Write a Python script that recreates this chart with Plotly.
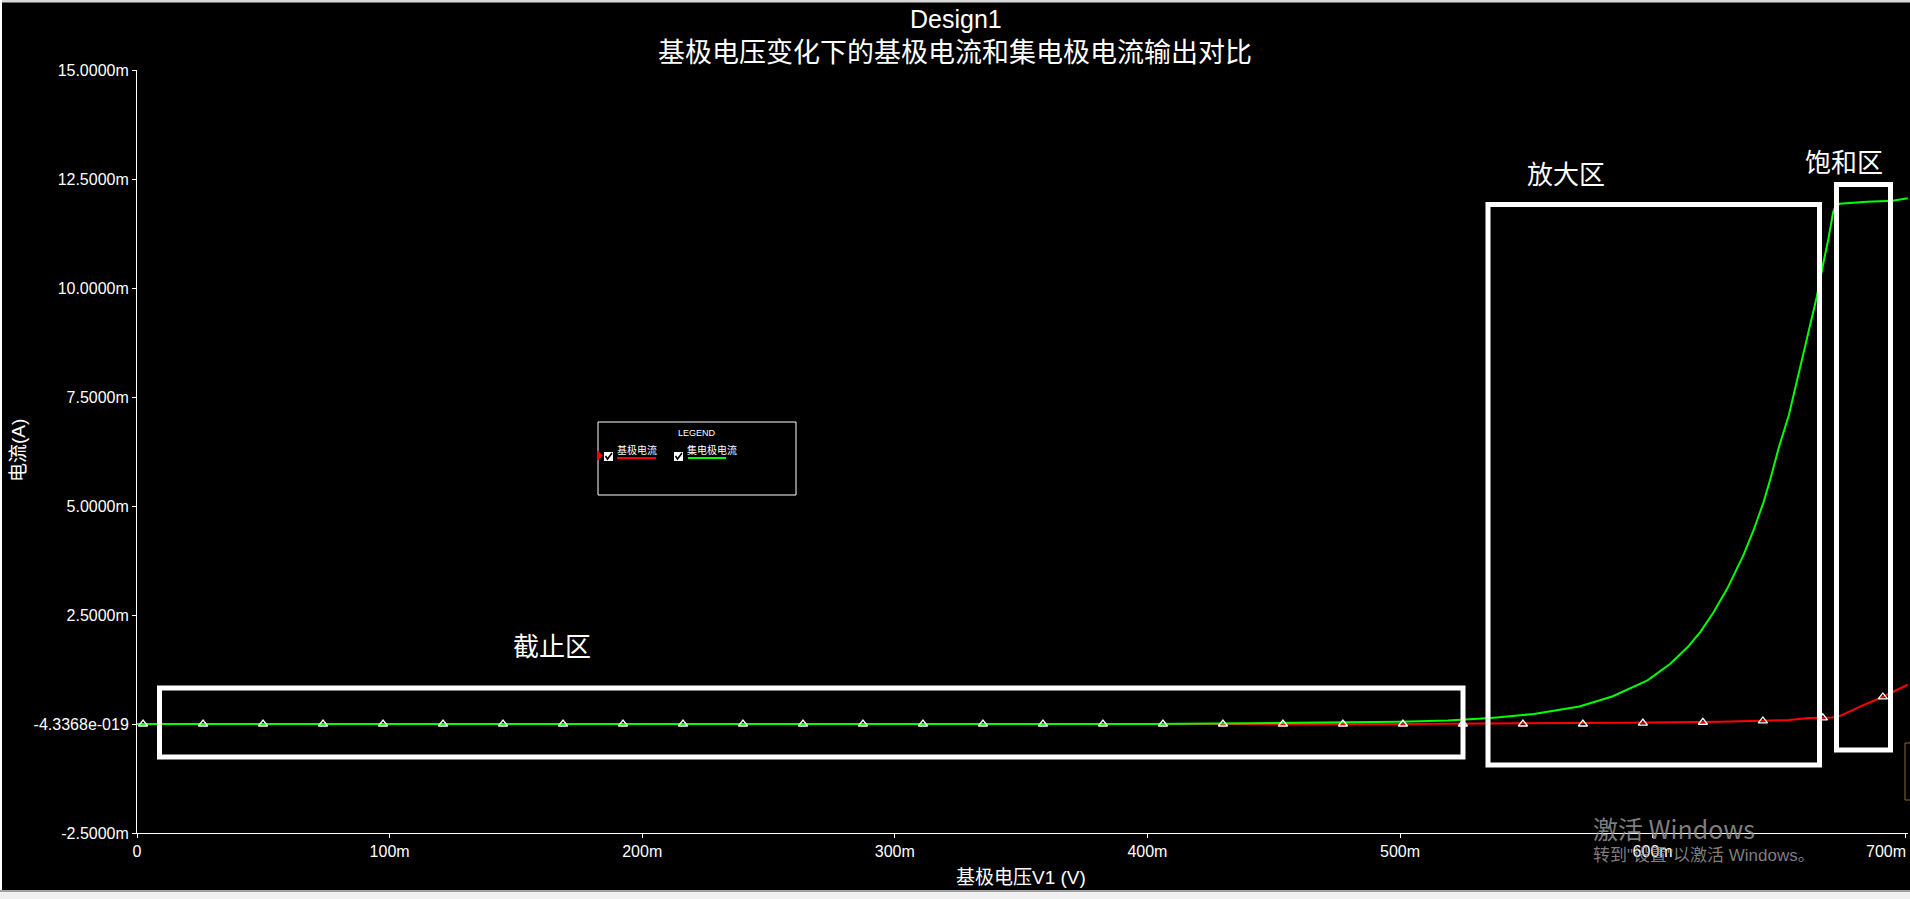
import plotly.graph_objects as go

# ---------------- data ----------------
# collector current (green), voltage in V, current in mA
vc_V = [0, 0.05, 0.1, 0.15, 0.2, 0.25, 0.3, 0.35, 0.4, 0.44, 0.465, 0.5, 0.519, 0.536, 0.553,
        0.571, 0.584, 0.598, 0.607, 0.614, 0.619, 0.624, 0.6295, 0.636, 0.640, 0.644, 0.647,
        0.650, 0.654, 0.658, 0.662, 0.665, 0.6675, 0.6695, 0.6715, 0.6725, 0.674, 0.685, 0.695, 0.701]
ic_mA = [0, 0, 0, 0, 0, 0, 0, 0, 0, 0.02, 0.03, 0.05, 0.08, 0.14, 0.23,
         0.40, 0.63, 1.0, 1.38, 1.77, 2.12, 2.55, 3.1, 3.88, 4.45, 5.1, 5.7,
         6.35, 7.1, 8.1, 9.1, 9.8, 10.55, 11.1, 11.75, 11.88, 11.93, 11.98, 12.0, 12.06]

# base current (red)
vb_V = [0, 0.1, 0.2, 0.3, 0.4, 0.5, 0.59, 0.627, 0.654, 0.662, 0.671, 0.674, 0.683, 0.691, 0.701]
ib_mA = [0, 0, 0, 0, 0, 0, 0.03, 0.05, 0.09, 0.14, 0.15, 0.18, 0.42, 0.62, 0.9]

# cursor markers on the base-current trace
marker_V = [0.0024, 0.02615, 0.0499, 0.07365, 0.0974, 0.12115, 0.1449, 0.16865, 0.1924, 0.21615,
            0.2399, 0.26365, 0.2874, 0.31115, 0.3349, 0.35865, 0.3824, 0.40615, 0.4299, 0.45365,
            0.4774, 0.50115, 0.5249, 0.54865, 0.5724, 0.59615, 0.6199, 0.64365, 0.6674, 0.69115]
marker_mA = [0, 0, 0, 0, 0, 0, 0, 0, 0, 0,
             0, 0, 0, 0, 0, 0, 0, 0, 0, 0,
             0, 0, 0, 0, 0, 0.02, 0.04, 0.07, 0.14, 0.62]

x_tick_vals = [0, 0.1, 0.2, 0.3, 0.4, 0.5, 0.6, 0.7]
x_tick_text = ["0", "100m", "200m", "300m", "400m", "500m", "600m", ""]
last_x_label = "700m"
y_tick_vals = [15, 12.5, 10, 7.5, 5, 2.5, 0, -2.5]
y_tick_text = ["15.0000m", "12.5000m", "10.0000m", "7.5000m", "5.0000m", "2.5000m",
               "-4.3368e-019", "-2.5000m"]
series_names = ["基极电流", "集电极电流"]
series_colors = ["#ff0000", "#00ff00"]
region_labels = ["截止区", "放大区", "饱和区"]

title_text = "Design1"
subtitle_text = "基极电压变化下的基极电流和集电极电流输出对比"
x_title = "基极电压V1 (V)"
y_title = "电流(A)"

# ---------------- layout geometry ----------------
W, H = 1910, 899
L, R, T, B = 137, 2, 70, 66
PW, PH = W - L - R, H - T - B


def px(x):
    return (x - L) / PW


def py(y):
    return (H - B - y) / PH


LAT = "Liberation Sans, Arial, Noto Sans CJK SC"
CJK = "Noto Sans CJK SC, Liberation Sans"

fig = go.Figure()
fig.add_trace(go.Scatter(x=vb_V, y=ib_mA, mode="lines", name=series_names[0],
                         line=dict(color=series_colors[0], width=2), hoverinfo="skip"))
fig.add_trace(go.Scatter(x=vc_V, y=ic_mA, mode="lines", name=series_names[1],
                         line=dict(color=series_colors[1], width=2), hoverinfo="skip"))
fig.add_trace(go.Scatter(x=marker_V, y=marker_mA, mode="markers", showlegend=False,
                         marker=dict(symbol="triangle-up-open", size=8, color="white",
                                     line=dict(color="white", width=1.3)),
                         hoverinfo="skip", cliponaxis=False))

shapes = []
annos = []


def box(x0, y0, x1, y1, width=5, color="white"):
    shapes.append(dict(type="rect", xref="paper", yref="paper",
                       x0=px(x0), x1=px(x1), y0=py(y1), y1=py(y0),
                       line=dict(color=color, width=width), fillcolor="rgba(0,0,0,0)",
                       layer="above"))


def text(x, y, s, size, color="white", family=CJK, xanchor="center", angle=0):
    annos.append(dict(xref="paper", yref="paper", x=px(x), y=py(y), text=s, showarrow=False,
                      xanchor=xanchor, yanchor="middle", textangle=angle, borderpad=0,
                      font=dict(size=size, color=color, family=family)))


# region boxes
box(159.5, 688, 1463, 757)
box(1488, 204.5, 1819.5, 765)
box(1836.5, 184.5, 1890.5, 750)
text(552, 644, region_labels[0], 26)
text(1566, 172, region_labels[1], 26)
text(1844, 160, region_labels[2], 26)

# titles
text(956, 19, title_text, 25, family=LAT)
text(955, 51, subtitle_text, 27)
text(1021, 877, x_title, 19, family=LAT)
text(18, 451, y_title, 19, family=LAT, angle=-90)
text(1907, 851, last_x_label, 16, family=LAT, xanchor="right")

# custom legend
box(598, 422, 796, 495, width=1)
text(697, 433, "LEGEND", 9, family=LAT)
for cx, tx, lx0, lx1, name, col in [(608.5, 636.5, 617, 656, series_names[0], series_colors[0]),
                                     (678.5, 712, 688, 726, series_names[1], series_colors[1])]:
    shapes.append(dict(type="rect", xref="paper", yref="paper",
                       x0=px(cx - 4.5), x1=px(cx + 4.5), y0=py(461), y1=py(452),
                       fillcolor="white", line=dict(width=0), layer="above"))
    shapes.append(dict(type="path", xref="paper", yref="paper",
                       path=f"M {px(cx-3)},{py(456)} L {px(cx-1)},{py(459)} L {px(cx+3.5)},{py(453)}",
                       line=dict(color="black", width=1.6), layer="above"))
    text(tx, 449.5, name, 10)
    shapes.append(dict(type="line", xref="paper", yref="paper",
                       x0=px(lx0), x1=px(lx1), y0=py(458), y1=py(458),
                       line=dict(color=col, width=2), layer="above"))
shapes.append(dict(type="path", xref="paper", yref="paper",
                   path=f"M {px(597)},{py(450)} L {px(603)},{py(455.5)} L {px(597)},{py(461)} Z",
                   fillcolor="#ff0000", line=dict(color="#ff0000", width=0), layer="above"))

# watermark
WM = "rgba(150,150,150,0.85)"
text(1592, 828, "激活 Windows", 25, color=WM, xanchor="left")
text(1592, 855, "转到\"设置\"以激活 Windows。", 17, color=WM, family=LAT, xanchor="left")


# window chrome
def chrome(x0, y0, x1, y1, color):
    shapes.append(dict(type="rect", xref="paper", yref="paper",
                       x0=px(x0), x1=px(x1), y0=py(y1), y1=py(y0),
                       fillcolor=color, line=dict(width=0), layer="above"))


chrome(0, 0, 1910, 2.5, "#d8d8d8")
chrome(0, 0, 2, 890, "#ffffff")
chrome(0, 890, 1910, 892, "#a0a0a0")
chrome(0, 892, 1910, 899, "#f0f0f0")
shapes.append(dict(type="rect", xref="paper", yref="paper",
                   x0=px(1905), x1=px(1912), y0=py(800), y1=py(743),
                   fillcolor="rgba(0,0,0,0)", line=dict(color="#8a6a30", width=1), layer="above"))

fig.update_layout(
    width=W, height=H,
    margin=dict(l=L, r=R, t=T, b=B, pad=0),
    paper_bgcolor="black", plot_bgcolor="black",
    showlegend=False,
    shapes=shapes, annotations=annos,
    xaxis=dict(range=[0, 0.7011], showgrid=False, zeroline=False, showline=True,
               linecolor="white", linewidth=1, ticks="outside", ticklen=4, tickcolor="white",
               tickvals=x_tick_vals, ticktext=x_tick_text,
               tickfont=dict(family=LAT, size=16, color="white")),
    yaxis=dict(range=[-2.5, 15], showgrid=False, zeroline=False, showline=True,
               linecolor="white", linewidth=1, ticks="outside", ticklen=4, tickcolor="white",
               tickvals=y_tick_vals, ticktext=y_tick_text,
               tickfont=dict(family=LAT, size=16, color="white")),
)

fig.write_html("out.html", config={"displayModeBar": False},
               post_script="document.body.style.margin='0';document.body.style.overflow='hidden';")
